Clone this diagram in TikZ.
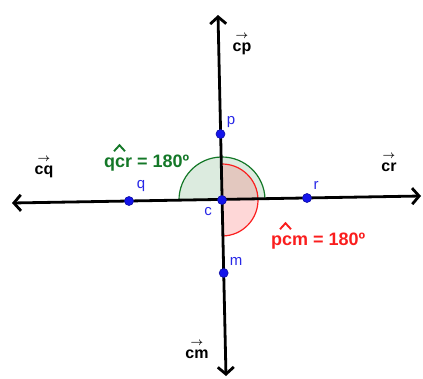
\documentclass[tikz,border=0pt]{standalone}
\usepackage{fontspec}
\setmainfont{Liberation Sans}
\usetikzlibrary{arrows.meta}
\definecolor{ptblue}{RGB}{20,20,235}
\definecolor{lblblue}{RGB}{40,40,230}
\definecolor{angreen}{RGB}{20,120,40}
\definecolor{angred}{RGB}{250,30,30}

\tikzset{
  axis/.style={line width=2.8pt,black,{Straight Barb[length=7pt,width=16pt,line width=2.8pt]}-{Straight Barb[length=7pt,width=16pt,line width=2.8pt]}},
  dot/.style={circle,fill=ptblue,draw=ptblue!70!black,line width=0.6pt,inner sep=0pt,minimum size=9pt},
  ptlabel/.style={text=lblblue,font=\fontsize{15}{17}\selectfont},
  veclabel/.style={font=\fontsize{16}{18}\selectfont\bfseries\boldmath,align=center,inner sep=0pt},
  anglabel/.style={font=\fontsize{18}{20}\selectfont\bfseries,inner sep=0pt},
  hatmark/.style={line width=1.9pt,line join=miter}
}

\begin{document}
\begin{tikzpicture}[x=1pt,y=-1pt]
  \useasboundingbox (0,0) rectangle (423,378);
  \clip (0,0) rectangle (423,378);

  % line ends and the meeting point
  \coordinate (c) at (222,200);
  \coordinate (west) at (12,203);
  \coordinate (east) at (421,196);
  \coordinate (north) at (218,15);
  \coordinate (south) at (226,376);

  % angle sectors
  \fill[angreen!60!white,opacity=0.25] (c) -- ++(-1.2:43) arc[start angle=-1.2,end angle=-181.2,radius=43] -- cycle;
  \fill[angred!70!white,opacity=0.25] (c) -- ++(-91.2:36) arc[start angle=-91.2,end angle=88.8,radius=36] -- cycle;
  \draw[angreen,line width=1.2pt] (c) ++(-1.2:43) arc[start angle=-1.2,end angle=-181.2,radius=43];
  \draw[angred,line width=1.2pt] (c) ++(-91.2:36) arc[start angle=-91.2,end angle=88.8,radius=36];

  % the two lines
  \draw[axis] (west) -- (east);
  \draw[axis] (south) -- (north);

  % points
  \node[dot] (q) at (129,201) {};
  \node[dot] (r) at (307,198) {};
  \node[dot] (p) at (220.5,134) {};
  \node[dot] (m) at (223.7,273) {};
  \node[dot] (cc) at (c) {};

  \node[ptlabel] (qlab) at (141,186) {q};
  \node[ptlabel] (rlab) at (316,185) {r};
  \node[ptlabel] (plab) at (231,122) {p};
  \node[ptlabel] (mlab) at (236,261) {m};
  \node[ptlabel] (clab) at (208,212) {c};

  % vector names
  \node[veclabel] (cq) at (44,168) {$\scriptstyle\rightarrow$\\[-5pt]cq};
  \node[veclabel] (cr) at (389,163) {$\scriptstyle\rightarrow$\\[-5pt]cr};
  \node[veclabel] (cp) at (242,45) {$\scriptstyle\rightarrow$\\[-5pt]cp};
  \node[veclabel] (cm) at (197,350) {$\scriptstyle\rightarrow$\\[-5pt]cm};

  % angle values
  \node[anglabel,text=angreen,anchor=base west] (qcr) at (104,167) {qcr = 180º};
  \node[anglabel,text=angred,anchor=base west] (pcm) at (271,245) {pcm = 180º};
  \draw[hatmark,angreen] (qcr.north west) ++(10,-3) -- ++(5.5,-6) -- ++(5.5,6);
  \draw[hatmark,angred] (pcm.north west) ++(9,-3) -- ++(5.5,-6) -- ++(5.5,6);
\end{tikzpicture}
\end{document}
